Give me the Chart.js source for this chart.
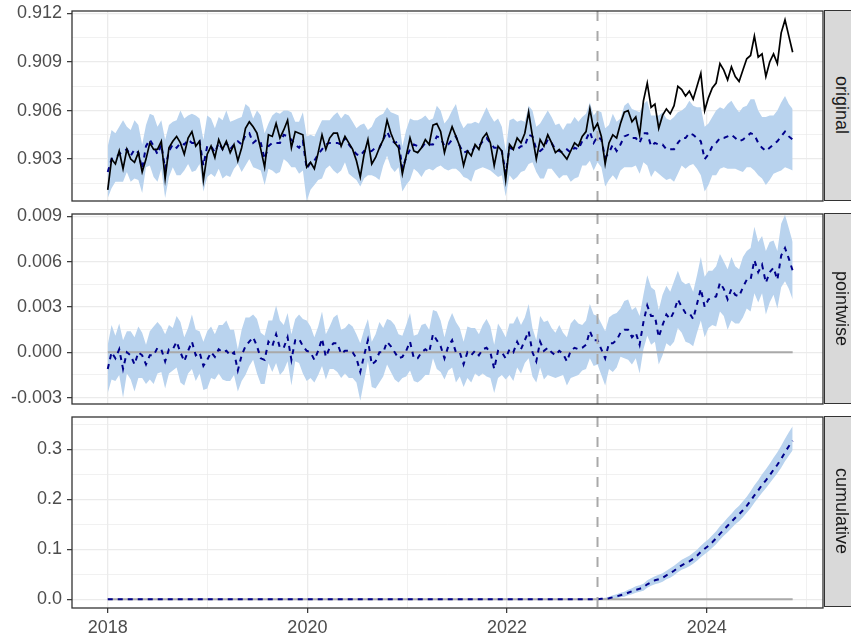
<!DOCTYPE html>
<html>
<head>
<meta charset="utf-8">
<script src="https://cdn.jsdelivr.net/npm/chart.js@4.4.1/dist/chart.umd.min.js"></script>
<style>
  body { margin: 0; background: #fff; }
  #wrap { position: relative; width: 851px; height: 638px; overflow: hidden; font-family: "Liberation Sans", Arial, sans-serif; }
  #wrap canvas { position: absolute; left: 0; }
  .strip { position: absolute; left: 824px; width: 34px; height: 191px; background: #d9d9d9; border: 1.3px solid #333; box-sizing: border-box;
           display: flex; align-items: center; justify-content: center; }
  .strip span { writing-mode: vertical-rl; font-size: 18px; color: #1a1a1a; }
</style>
</head>
<body>
<div id="wrap">
  <canvas id="cOriginal" width="851" height="203" style="top:0px"></canvas>
  <canvas id="cPointwise" width="851" height="201" style="top:205px"></canvas>
  <canvas id="cCumulative" width="851" height="230" style="top:408px"></canvas>
  <div class="strip" style="top:10px"><span>original</span></div>
  <div class="strip" style="top:213px"><span>pointwise</span></div>
  <div class="strip" style="top:416px"><span>cumulative</span></div>
</div>
<script>
// biweekly series, first point at start of 2018
const startYear = 2018;
const stepYears = 14 / 365.25;
const interventionIndex = 128;

const observed = [
  0.9011,0.9030,0.9027,0.9035,0.9024,0.9036,0.9030,0.9028,0.9034,0.9022,
  0.9030,0.9040,0.9036,0.9036,0.9041,0.9018,0.9037,0.9041,0.9044,0.9040,
  0.9033,0.9043,0.9047,0.9038,0.9041,0.9017,0.9033,0.9038,0.9031,0.9042,
  0.9036,0.9041,0.9034,0.9039,0.9029,0.9037,0.9049,0.9053,0.9050,0.9046,
  0.9036,0.9025,0.9045,0.9044,0.9052,0.9043,0.9048,0.9054,0.9037,0.9047,
  0.9046,0.9045,0.9025,0.9028,0.9024,0.9034,0.9045,0.9036,0.9043,0.9046,
  0.9046,0.9038,0.9044,0.9040,0.9036,0.9029,0.9019,0.9033,0.9042,0.9027,
  0.9031,0.9037,0.9042,0.9054,0.9046,0.9040,0.9037,0.9021,0.9032,0.9043,
  0.9035,0.9034,0.9037,0.9042,0.9039,0.9051,0.9052,0.9047,0.9034,0.9043,
  0.9050,0.9044,0.9038,0.9026,0.9035,0.9032,0.9039,0.9036,0.9043,0.9046,
  0.9040,0.9026,0.9038,0.9035,0.9017,0.9039,0.9036,0.9043,0.9040,0.9046,
  0.9059,0.9044,0.9030,0.9042,0.9038,0.9045,0.9040,0.9034,0.9036,0.9033,
  0.9030,0.9035,0.9040,0.9038,0.9044,0.9047,0.9061,0.9048,0.9052,0.9044,
  0.9027,0.9040,0.9045,0.9043,0.9052,0.9059,0.9060,0.9053,0.9056,0.9045,
  0.9066,0.9077,0.9062,0.9064,0.9049,0.9057,0.9061,0.9058,0.9063,0.9075,
  0.9073,0.9069,0.9072,0.9067,0.9075,0.9083,0.9060,0.9068,0.9074,0.9077,
  0.9089,0.9085,0.9079,0.9087,0.9081,0.9078,0.9085,0.9092,0.9094,0.9106,
  0.9093,0.9095,0.9081,0.9090,0.9095,0.9089,0.9108,0.9116,0.9106,0.9096
];

const predicted = [
  0.9022,0.9030,0.9031,0.9033,0.9035,0.9036,0.9032,0.9036,0.9034,0.9024,
  0.9038,0.9042,0.9038,0.9033,0.9039,0.9024,0.9035,0.9039,0.9037,0.9040,
  0.9039,0.9042,0.9040,0.9040,0.9041,0.9026,0.9038,0.9038,0.9034,0.9040,
  0.9036,0.9040,0.9036,0.9039,0.9041,0.9039,0.9045,0.9046,0.9040,0.9042,
  0.9040,0.9030,0.9038,0.9040,0.9040,0.9040,0.9045,0.9044,0.9042,0.9039,
  0.9037,0.9041,0.9024,0.9028,0.9029,0.9033,0.9036,0.9039,0.9040,0.9040,
  0.9040,0.9039,0.9043,0.9039,0.9036,0.9033,0.9032,0.9035,0.9034,0.9035,
  0.9037,0.9037,0.9042,0.9047,0.9042,0.9040,0.9041,0.9024,0.9031,0.9036,
  0.9039,0.9038,0.9037,0.9040,0.9039,0.9039,0.9044,0.9043,0.9038,0.9039,
  0.9042,0.9044,0.9038,0.9034,0.9035,0.9034,0.9038,0.9038,0.9041,0.9043,
  0.9040,0.9037,0.9037,0.9035,0.9021,0.9037,0.9036,0.9036,0.9038,0.9038,
  0.9045,0.9044,0.9036,0.9035,0.9037,0.9042,0.9040,0.9036,0.9035,0.9034,
  0.9036,0.9034,0.9037,0.9036,0.9041,0.9042,0.9047,0.9040,0.9044,0.9042,
  0.9031,0.9034,0.9039,0.9035,0.9039,0.9044,0.9045,0.9043,0.9043,0.9040,
  0.9046,0.9046,0.9038,0.9040,0.9039,0.9039,0.9036,0.9036,0.9036,0.9040,
  0.9043,0.9043,0.9046,0.9045,0.9043,0.9041,0.9030,0.9033,0.9038,0.9040,
  0.9043,0.9043,0.9044,0.9045,0.9043,0.9041,0.9042,0.9044,0.9046,0.9045,
  0.9040,0.9037,0.9035,0.9037,0.9039,0.9041,0.9044,0.9047,0.9044,0.9042
];

// half width of the prediction interval
const intervalHalf = [
  0.0016,0.0018,0.0015,0.0017,0.0019,0.0014,0.0016,0.0018,0.0017,0.0015,
  0.0013,0.0016,0.0019,0.0017,0.0015,0.0018,0.0016,0.0014,0.0017,0.0020,
  0.0016,0.0015,0.0018,0.0017,0.0014,0.0016,0.0019,0.0017,0.0015,0.0016,
  0.0018,0.0020,0.0017,0.0015,0.0014,0.0017,0.0019,0.0016,0.0015,0.0018,
  0.0017,0.0016,0.0014,0.0017,0.0019,0.0018,0.0015,0.0016,0.0017,0.0014,
  0.0016,0.0018,0.0020,0.0017,0.0015,0.0016,0.0018,0.0015,0.0014,0.0017,
  0.0019,0.0016,0.0015,0.0018,0.0017,0.0016,0.0019,0.0017,0.0014,0.0015,
  0.0018,0.0020,0.0016,0.0015,0.0017,0.0018,0.0016,0.0014,0.0017,0.0019,
  0.0015,0.0016,0.0018,0.0017,0.0015,0.0016,0.0019,0.0017,0.0014,0.0016,
  0.0018,0.0020,0.0016,0.0015,0.0017,0.0018,0.0015,0.0014,0.0016,0.0019,
  0.0017,0.0016,0.0018,0.0015,0.0014,0.0017,0.0019,0.0017,0.0016,0.0015,
  0.0018,0.0016,0.0014,0.0017,0.0019,0.0018,0.0016,0.0015,0.0017,0.0014,
  0.0016,0.0018,0.0019,0.0017,0.0015,0.0016,0.0018,0.0017,0.0016,0.0017,
  0.0018,0.0017,0.0019,0.0018,0.0016,0.0019,0.0020,0.0018,0.0017,0.0019,
  0.0018,0.0020,0.0019,0.0017,0.0018,0.0020,0.0019,0.0018,0.0020,0.0019,
  0.0017,0.0019,0.0020,0.0018,0.0019,0.0021,0.0020,0.0019,0.0018,0.0020,
  0.0019,0.0018,0.0020,0.0021,0.0019,0.0018,0.0020,0.0019,0.0021,0.0022,
  0.0020,0.0019,0.0021,0.0020,0.0018,0.0019,0.0021,0.0022,0.0020,0.0019
];

// cumulative effect from the intervention on
const cumEffect = [
  0.000,0.001,0.001,0.002,0.004,0.006,0.008,0.010,0.013,0.016,
  0.019,0.021,0.024,0.030,0.034,0.038,0.040,0.043,0.048,0.052,
  0.057,0.063,0.068,0.072,0.076,0.081,0.087,0.095,0.101,0.107,
  0.114,0.122,0.131,0.139,0.147,0.155,0.163,0.170,0.178,0.187,
  0.197,0.208,0.218,0.229,0.238,0.248,0.259,0.269,0.281,0.294,
  0.306,0.317
];
const cumUpper = [
  0.000,0.002,0.003,0.005,0.008,0.010,0.013,0.015,0.019,0.022,
  0.026,0.028,0.031,0.038,0.042,0.046,0.049,0.052,0.057,0.062,
  0.067,0.073,0.079,0.083,0.087,0.093,0.099,0.107,0.114,0.120,
  0.128,0.136,0.146,0.154,0.163,0.171,0.180,0.187,0.196,0.205,
  0.216,0.228,0.238,0.250,0.260,0.271,0.283,0.294,0.307,0.321,
  0.334,0.346
];
const cumLower = [
  0.000,0.000,-0.001,-0.001,0.001,0.002,0.004,0.005,0.008,0.010,
  0.013,0.015,0.017,0.023,0.027,0.030,0.032,0.035,0.040,0.043,
  0.048,0.054,0.059,0.062,0.066,0.071,0.077,0.084,0.090,0.096,
  0.103,0.110,0.119,0.127,0.134,0.142,0.150,0.156,0.164,0.173,
  0.182,0.193,0.203,0.213,0.222,0.232,0.242,0.252,0.263,0.276,
  0.287,0.298
];

const xGridYears = [2018, 2019, 2020, 2021, 2022, 2023, 2024, 2025];
const xLabelYears = [2018, 2020, 2022, 2024];

const origMajor = [0.903, 0.906, 0.909, 0.912];
const origMinor = [0.9015, 0.9045, 0.9075, 0.9105];
const origLabels = ['0.903', '0.906', '0.909', '0.912'];
const pointMajor = [-0.003, 0, 0.003, 0.006, 0.009];
const pointMinor = [-0.0015, 0.0015, 0.0045, 0.0075];
const pointLabels = ['-0.003', '0.000', '0.003', '0.006', '0.009'];
const cumMajor = [0, 0.1, 0.2, 0.3];
const cumMinor = [0.05, 0.15, 0.25, 0.35];
const cumLabels = ['0.0', '0.1', '0.2', '0.3'];

const dates = observed.map((_, i) => startYear + i * stepYears);
const xy = arr => arr.map((v, i) => ({ x: dates[i], y: v }));

const predLower = predicted.map((p, i) => p - intervalHalf[i]);
const predUpper = predicted.map((p, i) => p + intervalHalf[i]);
const pointEffect = observed.map((v, i) => v - predicted[i]);
const pointLower = observed.map((v, i) => v - predUpper[i]);
const pointUpper = observed.map((v, i) => v - predLower[i]);
const cumLine = dates.map((d, i) => i < interventionIndex ? 0 : cumEffect[i - interventionIndex]);
const cumLo = dates.map((d, i) => i < interventionIndex ? 0 : cumLower[i - interventionIndex]);
const cumHi = dates.map((d, i) => i < interventionIndex ? 0 : cumUpper[i - interventionIndex]);
const zeros = dates.map(() => 0);

Chart.defaults.font.family = '"Liberation Sans", Arial, sans-serif';
Chart.defaults.font.size = 18;
Chart.defaults.color = '#4d4d4d';

const near = (a, list) => list.some(v => Math.abs(v - a) < 1e-9);

const frame = {
  id: 'frame',
  afterDatasetsDraw(chart) {
    const { ctx, chartArea: a, scales } = chart;
    const px = scales.x.getPixelForValue(dates[interventionIndex]);
    ctx.save();
    ctx.strokeStyle = '#a9a9a9';
    ctx.lineWidth = 2;
    ctx.setLineDash([10, 10]);
    ctx.beginPath();
    ctx.moveTo(px, a.top);
    ctx.lineTo(px, a.bottom);
    ctx.stroke();
    ctx.restore();
  },
  afterDraw(chart) {
    const { ctx, chartArea: a } = chart;
    ctx.save();
    ctx.strokeStyle = '#333333';
    ctx.lineWidth = 1.3;
    ctx.strokeRect(a.left, a.top, a.right - a.left, a.bottom - a.top);
    ctx.restore();
  }
};

function xScale(showLabels) {
  return {
    type: 'linear',
    min: 2017.642,
    max: 2025.165,
    afterBuildTicks: s => { s.ticks = xGridYears.map(v => ({ value: v })); },
    afterFit: s => { s.height = showLabels ? 30 : 0; s.paddingLeft = 0; s.paddingRight = 0; },
    border: { display: false },
    grid: {
      color: '#ebebeb',
      lineWidth: c => near(c.tick.value, xLabelYears) ? 1.3 : 0.7,
      drawTicks: showLabels,
      tickLength: 5,
      tickWidth: 1.2,
      tickColor: c => near(c.tick.value, xLabelYears) ? '#333333' : 'rgba(0,0,0,0)'
    },
    ticks: {
      display: showLabels,
      autoSkip: false,
      maxRotation: 0,
      padding: 4,
      color: '#4d4d4d',
      callback: v => near(v, xLabelYears) ? String(v) : ''
    }
  };
}

function yScale(min, max, major, minor, labels) {
  return {
    min: min,
    max: max,
    afterBuildTicks: s => { s.ticks = major.concat(minor).sort((a, b) => a - b).map(v => ({ value: v })); },
    afterFit: s => { s.width = 72; s.paddingTop = 0; s.paddingBottom = 0; },
    border: { display: false },
    grid: {
      color: '#ebebeb',
      lineWidth: c => near(c.tick.value, major) ? 1.3 : 0.7,
      tickLength: 5,
      tickWidth: 1.2,
      tickColor: c => near(c.tick.value, major) ? '#333333' : 'rgba(0,0,0,0)'
    },
    ticks: {
      autoSkip: false,
      padding: 5,
      color: '#4d4d4d',
      callback: v => {
        const k = major.findIndex(m => Math.abs(m - v) < 1e-9);
        return k >= 0 ? labels[k] : '';
      }
    }
  };
}

const bandColor = '#b9d3ee';
const line = (data, color, width, dash) => ({
  data: xy(data), borderColor: color, borderWidth: width, borderDash: dash || [],
  pointRadius: 0, tension: 0, fill: false
});
const bandUpper = data => ({ data: xy(data), borderWidth: 0, pointRadius: 0, backgroundColor: bandColor, fill: '+1' });
const bandLower = data => ({ data: xy(data), borderWidth: 0, pointRadius: 0, backgroundColor: bandColor, fill: false });

function makeChart(id, datasets, y, padTop, padBottom, showLabels) {
  new Chart(document.getElementById(id), {
    type: 'line',
    data: { datasets: datasets },
    options: {
      responsive: false,
      animation: false,
      devicePixelRatio: 1,
      layout: { padding: { left: 0, right: 28, top: padTop, bottom: padBottom } },
      plugins: { legend: { display: false }, tooltip: { enabled: false } },
      scales: { x: xScale(showLabels), y: y }
    },
    plugins: [frame]
  });
}

makeChart('cOriginal', [
  line(observed, '#000000', 1.7),
  line(predicted, '#00008b', 2, [5, 5]),
  bandUpper(predUpper),
  bandLower(predLower)
], yScale(0.90041, 0.91215, origMajor, origMinor, origLabels), 11, 2, false);

makeChart('cPointwise', [
  line(pointEffect, '#00008b', 2, [5, 5]),
  line(zeros, '#a9a9a9', 2),
  bandUpper(pointUpper),
  bandLower(pointLower)
], yScale(-0.00342, 0.00915, pointMajor, pointMinor, pointLabels), 9, 2, false);

makeChart('cCumulative', [
  line(cumLine, '#00008b', 2, [5, 5]),
  line(zeros, '#a9a9a9', 2),
  bandUpper(cumHi),
  bandLower(cumLo)
], yScale(-0.0174, 0.3646, cumMajor, cumMinor, cumLabels), 9, 0, true);
</script>
</body>
</html>
